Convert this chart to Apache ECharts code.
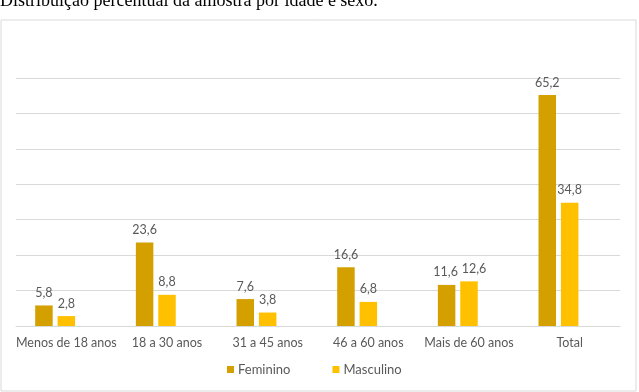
<!DOCTYPE html>
<html>
<head>
<meta charset="utf-8">
<script src="https://cdn.jsdelivr.net/npm/echarts@6/dist/echarts.min.js"></script>
<style>
    html, body { margin: 0; padding: 0; background: #fff; }
    #chart { width: 639px; height: 392px; }
</style>
</head>
<body>
<div id="chart"></div>
<script>
const categories = ["Menos de 18 anos", "18 a 30 anos", "31 a 45 anos", "46 a 60 anos", "Mais de 60 anos", "Total"];
const feminino = [5.8, 23.6, 7.6, 16.6, 11.6, 65.2];
const masculino = [2.8, 8.8, 3.8, 6.8, 12.6, 34.8];
// empty third series from the source sheet, it still takes a bar slot
const vazio = [null, null, null, null, null, null];

const textColor = "#595959";
const lineColor = "#d9d9d9";
const font = "Lato, 'Open Sans', sans-serif";

function labelFmt(p) {
    return String(p.value).replace(".", ",");
}

function barSeries(name, data, color, shifted) {
    return {
        name: name,
        type: "bar",
        // labels nudged sideways where excel moved them to avoid overlap
        data: data.map((v, i) => shifted && shifted[i] ? { value: v, label: { offset: [shifted[i], 0] } } : v),
        barWidth: 17.5,
        barGap: "28%",
        itemStyle: { color: color },
        label: {
            show: true,
            position: "top",
            distance: 6,
            color: textColor,
            fontSize: 12.5,
            fontFamily: font,
            formatter: labelFmt
        }
    };
}

const chart = echarts.init(document.getElementById("chart"));
chart.setOption({
    animation: false,
    graphic: [
        {
            type: "text",
            left: 0,
            top: -8,
            style: {
                text: "Distribuição percentual da amostra por idade e sexo.",
                font: "18px 'Liberation Serif', 'DejaVu Serif', serif",
                fill: "#000"
            }
        },
        {
            type: "rect",
            shape: { x: 1, y: 20, width: 635, height: 371 },
            style: { fill: "#fff", stroke: lineColor, lineWidth: 1 },
            z: -1
        }
    ],
    legend: {
        data: ["Feminino", "Masculino"],
        left: 222,
        top: 358,
        itemWidth: 7,
        itemHeight: 7,
        itemGap: 42,
        itemStyle: { borderWidth: 0 },
        textStyle: { color: textColor, fontSize: 13, fontFamily: font, padding: [0, 0, 0, -1] },
        icon: "rect"
    },
    grid: {
        left: 16,
        right: 19,
        top: 78,
        bottom: 66,
        containLabel: false
    },
    xAxis: {
        type: "category",
        data: categories,
        axisLine: { lineStyle: { color: lineColor } },
        axisTick: { show: false },
        axisLabel: {
            color: textColor,
            fontSize: 12.5,
            fontFamily: font,
            margin: 10,
            interval: 0
        }
    },
    yAxis: {
        type: "value",
        min: 0,
        max: 70,
        interval: 10,
        axisLabel: { show: false },
        axisLine: { show: false },
        axisTick: { show: false },
        splitLine: { lineStyle: { color: lineColor } }
    },
    series: [
        barSeries("Feminino", feminino, "#D4A000", [0, 0, 0, 0, -1, 0]),
        barSeries("Masculino", masculino, "#FFC000", [0, 0, 0, 0, 5, 0]),
        barSeries("", vazio, "#A5A5A5")
    ]
});
</script>
</body>
</html>
